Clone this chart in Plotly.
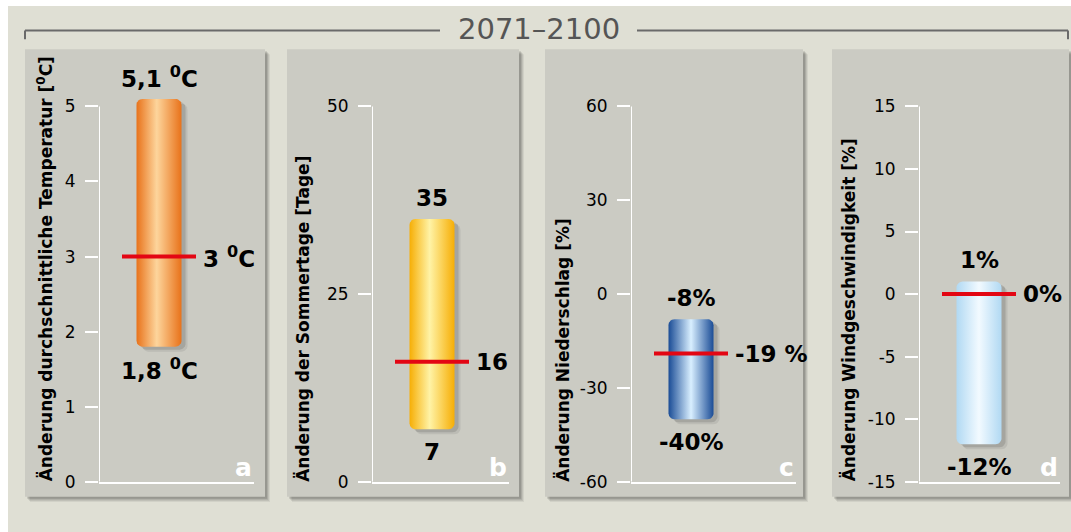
import numpy as np
import plotly.graph_objects as go

# ---------------- data ----------------
categories = ["a", "b", "c", "d"]
axis_titles = [
    "Änderung durchschnittliche Temperatur [<sup>0</sup>C]",
    "Änderung der Sommertage [Tage]",
    "Änderung Niederschlag [%]",
    "Änderung Windgeschwindigkeit [%]",
]
tick_values = [
    [0, 1, 2, 3, 4, 5],
    [0, 25, 50],
    [-60, -30, 0, 30, 60],
    [-15, -10, -5, 0, 5, 10, 15],
]
range_low = [1.8, 7, -40, -12]
range_high = [5.1, 35, -8, 1]
median = [3, 16, -19, 0]
low_labels = ["1,8 <sup>0</sup>C", "7", "-40%", "-12%"]
high_labels = ["5,1 <sup>0</sup>C", "35", "-8%", "1%"]
median_labels = ["3 <sup>0</sup>C", "16", "-19 %", "0%"]
period_label = "2071–2100"

# ---------------- layout / style ----------------
W, H = 1071, 532          # design grid (reference pixels)
FIG_H = 544               # rendered height (viewport is slightly taller than the photo)
SY = FIG_H / H
axis_x_px = [99, 372, 631, 919]
right_px = [254, 509, 796, 1060]
panel_px = [(25, 49, 265, 495), (287, 49, 519, 495), (545, 49, 803, 495), (832, 49, 1069, 495)]
title_x_px = [45, 303, 563, 848]
Y0_PX, YTOP_PX = 480, 106
EXT = 0.2
BAR_CX, BAR_HW, RED_HW, RADIUS = 60, 22.5, 37, 6
gradients = [
    [[0, "#e8721a"], [0.45, "#fdd59c"], [1, "#e8721a"]],
    [[0, "#f6ae05"], [0.45, "#fff3a6"], [1, "#f6ae05"]],
    [[0, "#1a4c96"], [0.5, "#d9efff"], [1, "#1a4c96"]],
    [[0, "#b1d9f3"], [0.5, "#f2faff"], [1, "#b1d9f3"]],
]
BG = "#dfdfd4"
PANEL = "#cbcbc3"
RED = "#e30613"
LABEL_FONT = dict(family="DejaVu Sans", size=23, color="black")


def px_x(p):
    return p / W


def px_y(p):
    return (H - p) / H


def rounded_rect(x0, x1, y0, y1, rx, ry, n=8):
    xs, ys = [], []
    corners = [
        (x1 - rx, y1 - ry, 0, 90),
        (x0 + rx, y1 - ry, 90, 180),
        (x0 + rx, y0 + ry, 180, 270),
        (x1 - rx, y0 + ry, 270, 360),
    ]
    for cx, cy, a0, a1 in corners:
        t = np.radians(np.linspace(a0, a1, n))
        xs.extend(cx + rx * np.cos(t))
        ys.extend(cy + ry * np.sin(t))
    xs.append(xs[0])
    ys.append(ys[0])
    return xs, ys


fig = go.Figure()
shapes = []
annotations = []

# background
shapes.append(dict(type="rect", xref="paper", yref="paper", x0=px_x(8), x1=1, y0=0, y1=px_y(6),
                   fillcolor=BG, line=dict(width=0), layer="below"))
# panels with shadows
for (l, t, r, b) in panel_px:
    for off, alpha in [(5, 0.06), (4, 0.08), (3, 0.10), (2, 0.12)]:
        shapes.append(dict(type="rect", xref="paper", yref="paper",
                           x0=px_x(l + off), x1=px_x(r + off), y0=px_y(b + off), y1=px_y(t + off),
                           fillcolor=f"rgba(0,0,0,{alpha})", line=dict(width=0), layer="below"))
    shapes.append(dict(type="rect", xref="paper", yref="paper",
                       x0=px_x(l), x1=px_x(r), y0=px_y(b), y1=px_y(t),
                       fillcolor=PANEL, line=dict(width=0), layer="below"))

# period bracket
for xa, xb, xt in [(25, 440, 25), (637, 1068, 1068)]:
    shapes.append(dict(type="line", xref="paper", yref="paper", x0=px_x(xa), x1=px_x(xb),
                       y0=px_y(30.5), y1=px_y(30.5), line=dict(color="#6a6a6a", width=2)))
    shapes.append(dict(type="line", xref="paper", yref="paper", x0=px_x(xt), x1=px_x(xt),
                       y0=px_y(30.5), y1=px_y(39), line=dict(color="#6a6a6a", width=2)))
annotations.append(dict(text=period_label, xref="paper", yref="paper", x=px_x(538.5), y=px_y(28.5),
                        xanchor="center", yanchor="middle", showarrow=False,
                        font=dict(family="DejaVu Sans", size=29, color="#555555")))

layout_axes = {}
for i in range(4):
    ticks = tick_values[i]
    ymin, ymax = ticks[0], ticks[-1]
    span = ymax - ymin
    upp = span / (Y0_PX - YTOP_PX)  # data units per reference pixel
    xw = right_px[i] - axis_x_px[i]
    suf = "" if i == 0 else str(i + 1)
    xref, yref = "x" + suf, "y" + suf
    top_px = YTOP_PX - EXT * (Y0_PX - YTOP_PX)

    layout_axes["xaxis" + suf] = dict(
        domain=[px_x(axis_x_px[i]), px_x(right_px[i])], range=[0, xw], anchor=yref,
        showline=True, linecolor="white", linewidth=2, showgrid=False, zeroline=False,
        showticklabels=False, ticks="", fixedrange=True)
    layout_axes["yaxis" + suf] = dict(
        domain=[px_y(Y0_PX), px_y(top_px)], range=[ymin, ymax + EXT * span], anchor=xref,
        tickvals=ticks, ticktext=[str(v) for v in ticks], ticks="outside", ticklen=13,
        tickcolor="white", tickwidth=2, showline=False, showgrid=False, zeroline=False,
        ticklabelstandoff=6, tickfont=dict(family="DejaVu Sans", size=17, color="black"),
        fixedrange=True)

    # y axis line
    shapes.append(dict(type="line", xref=xref, yref=yref, x0=0, x1=0, y0=ymin, y1=ymax,
                       line=dict(color="white", width=2), layer="above"))

    lo, hi, md = range_low[i], range_high[i], median[i]
    # bar shadow
    for dx, dy, a in [(6, 5, 0.10), (4, 3, 0.18)]:
        sx, sy = rounded_rect(BAR_CX - BAR_HW + dx, BAR_CX + BAR_HW + dx,
                              lo - dy * upp, hi - dy * upp, RADIUS, RADIUS * upp)
        fig.add_trace(go.Scatter(x=sx, y=sy, xaxis=xref, yaxis=yref, mode="lines",
                                 fill="toself", fillcolor=f"rgba(60,60,60,{a})",
                                 line=dict(width=0), hoverinfo="skip", showlegend=False))
    # gradient bar
    bx, by = rounded_rect(BAR_CX - BAR_HW, BAR_CX + BAR_HW, lo, hi, RADIUS, RADIUS * upp)
    fig.add_trace(go.Scatter(x=bx, y=by, xaxis=xref, yaxis=yref, mode="lines", fill="toself",
                             fillgradient=dict(type="horizontal", colorscale=gradients[i]),
                             line=dict(width=0), hoverinfo="skip", showlegend=False))
    # median line
    fig.add_trace(go.Scatter(x=[BAR_CX - RED_HW, BAR_CX + RED_HW], y=[md, md], xaxis=xref,
                             yaxis=yref, mode="lines", line=dict(color=RED, width=4),
                             hoverinfo="skip", showlegend=False))

    annotations.append(dict(text=f"<b>{high_labels[i]}</b>", xref=xref, yref=yref, x=BAR_CX, y=hi,
                            yshift=21 * SY, xanchor="center", yanchor="middle", showarrow=False,
                            font=LABEL_FONT))
    annotations.append(dict(text=f"<b>{low_labels[i]}</b>", xref=xref, yref=yref, x=BAR_CX, y=lo,
                            yshift=-22 * SY, xanchor="center", yanchor="middle", showarrow=False,
                            font=LABEL_FONT))
    annotations.append(dict(text=f"<b>{median_labels[i]}</b>", xref=xref, yref=yref,
                            x=BAR_CX + RED_HW + 5, y=md, xanchor="left", yanchor="middle",
                            showarrow=False, font=LABEL_FONT))
    # panel letter
    annotations.append(dict(text=f"<b>{categories[i]}</b>", xref=xref, yref=yref, x=xw, y=ymin,
                            yshift=14 * SY, xanchor="right", yanchor="middle", showarrow=False,
                            font=dict(family="DejaVu Sans", size=25, color="white")))
    # axis title
    annotations.append(dict(text=f"<b>{axis_titles[i]}</b>", xref="paper", yref="paper",
                            x=px_x(title_x_px[i]), y=px_y(482), xanchor="center", yanchor="bottom",
                            textangle=-90, showarrow=False,
                            font=dict(family="DejaVu Sans", size=17, color="black")))

fig.update_layout(
    width=W, height=FIG_H, autosize=False, margin=dict(l=0, r=0, t=0, b=0),
    paper_bgcolor="white", plot_bgcolor="rgba(0,0,0,0)",
    shapes=shapes, annotations=annotations, showlegend=False,
    **layout_axes,
)
fig.write_html("out.html", config={"displayModeBar": False, "responsive": False},
               post_script="document.body.style.margin='0';document.body.style.overflow='hidden';")
